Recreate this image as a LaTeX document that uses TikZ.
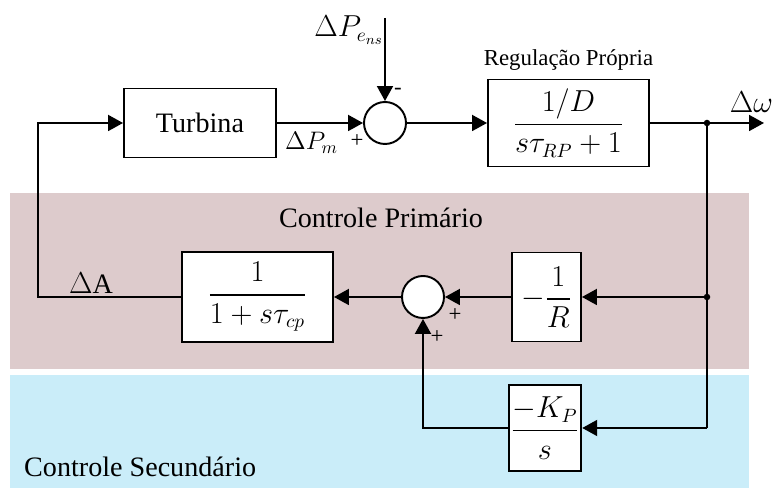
\documentclass[tikz,border=0pt]{standalone}
\usepackage{amsmath}
\usepackage{fontspec}
\setmainfont{Liberation Serif}
\usetikzlibrary{arrows.meta, positioning, calc}
\definecolor{primPink}{HTML}{DDCBCC}
\definecolor{secBlue}{HTML}{CAEDF9}

\begin{document}
\begin{tikzpicture}[
    every node/.style={font=\fontsize{16}{19}\selectfont},
    block/.style={draw, fill=white, line width=1.1pt, minimum width=3.04cm,
                  minimum height=1.38cm, align=center, inner sep=1pt},
    sumnode/.style={draw, fill=white, circle, line width=1.1pt,
                    minimum size=0.84cm, inner sep=0pt},
    sig/.style={-{Triangle[length=3mm, width=3.2mm]}, line width=1.1pt},
    wire/.style={line width=1.1pt},
    sgn/.style={font=\fontsize{13}{15}\selectfont, inner sep=0pt},
  ]
  \useasboundingbox (0,0) rectangle (15.52,9.76);

  % control areas
  \fill[primPink] (0.2,2.38) rectangle (14.98,5.90);
  \fill[secBlue]  (0.2,0)    rectangle (14.98,2.26);
  \node (prim) at (7.62,5.40) {Controle Primário};
  \node[anchor=west] (sec) at (0.36,0.42) {Controle Secundário};

  % forward path
  \node[block] (turb) at (4.0,7.30) {Turbina};
  \node[sumnode] (sum1) at (7.70,7.30) {};
  \node[block, minimum width=3.22cm, minimum height=1.74cm] (reg) at (11.37,7.30)
    {$\dfrac{1/D}{s\tau_{RP}+1}$};
  \node[font=\fontsize{13}{15}\selectfont] (regtxt) at (11.37,8.56) {Regulação Própria};

  \coordinate (pin) at (7.70,9.40);
  \coordinate (j1)  at (14.14,7.30);
  \coordinate (out) at (15.28,7.30);

  \node (dpe) at (6.98,9.16) {$\Delta P_{e_{ns}}$};
  \node[anchor=west, inner sep=1pt, font=\fontsize{14}{17}\selectfont] (dpm) at (5.66,6.90)
    {$\Delta P_m$};
  \node[anchor=south east, inner sep=1pt] (dw) at (15.50,7.46) {$\Delta\omega$};
  \node[sgn] (s1a) at (7.96,7.94) {-};
  \node[sgn] (s1b) at (7.14,6.94) {+};

  \draw[sig] (pin) -- (sum1);
  \draw[sig] (turb) -- (sum1);
  \draw[sig] (sum1) -- (reg);
  \draw[sig] (reg) -- (out);
  \fill (j1) circle (0.065);

  % feedback paths
  \node[block, minimum width=1.38cm, minimum height=1.78cm] (droop) at (10.93,3.82)
    {$-\dfrac{1}{R}$};
  \node[sumnode] (sum2) at (8.46,3.82) {};
  \node[block, minimum width=3.02cm, minimum height=1.80cm] (gov) at (5.15,3.82)
    {$\dfrac{1}{1+s\tau_{cp}}$};
  \node[block, minimum width=1.32cm, minimum height=1.72cm] (integ) at (10.90,1.20)
    {$\dfrac{-K_P}{s}$};

  \coordinate (j2)   at (14.14,3.82);
  \coordinate (j3)   at (14.14,1.20);
  \coordinate (back) at (0.76,3.82);

  \node (da) at (1.82,4.10) {$\Delta$A};
  \node[sgn] (s2a) at (9.10,3.46) {+};
  \node[sgn] (s2b) at (8.74,3.02) {+};

  \draw[wire] (j1) -- (j3);
  \draw[sig] (j2) -- (droop);
  \draw[sig] (droop) -- (sum2);
  \draw[sig] (sum2) -- (gov);
  \draw[sig] (gov.west) -- (back) |- (turb.west);
  \draw[sig] (j3) -- (integ);
  \draw[sig] (integ.west) -| (sum2.south);
  \fill (j2) circle (0.065);
\end{tikzpicture}
\end{document}
